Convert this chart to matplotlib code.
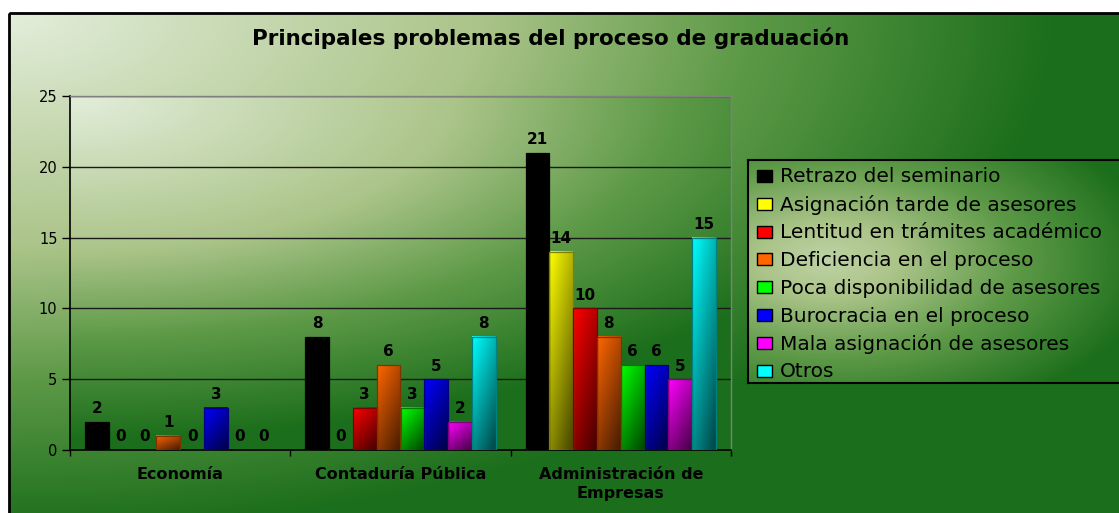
import numpy as np
import matplotlib.pyplot as plt
from matplotlib.colors import LinearSegmentedColormap, to_rgb
from matplotlib.patches import Rectangle

W, H = 1119, 513

categories = ['Economía', 'Contaduría Pública', 'Administración de\nEmpresas']
series = ['Retrazo del seminario', 'Asignación tarde de asesores',
          'Lentitud en trámites académico', 'Deficiencia en el proceso',
          'Poca disponibilidad de asesores', 'Burocracia en el proceso',
          'Mala asignación de asesores', 'Otros']
colors = ['#000000', '#ffff00', '#ff0000', '#ff6600',
          '#00ff00', '#0000ff', '#ff00ff', '#00ffff']
economia = [2, 0, 0, 1, 0, 3, 0, 0]
contaduria = [8, 0, 3, 6, 3, 5, 2, 8]
administracion = [21, 14, 10, 8, 6, 6, 5, 15]
yticks = [0, 5, 10, 15, 20, 25]

values = np.array([economia, contaduria, administracion])

plt.rcParams['font.family'] = ['DejaVu Sans']

green = LinearSegmentedColormap.from_list(
    'green', [(0, '#e3eedb'), (0.45, '#abc489'), (0.7, '#5e9a48'), (1, '#1b6e1b')])


def radial(nx, ny, cx, cy, rx, ry, lo=0.0):
    xx, yy = np.meshgrid(np.arange(nx) + 0.5, np.arange(ny) + 0.5)
    d = np.sqrt(((xx - cx) / rx) ** 2 + ((yy - cy) / ry) ** 2)
    return green(lo + (1 - lo) * np.clip(d, 0, 1))


def px_axes(x0, y0, x1, y1, **kw):
    return fig.add_axes([x0 / W, 1 - y1 / H, (x1 - x0) / W, (y1 - y0) / H], **kw)


def shade(ax, rect, color):
    h = rect.get_height()
    if h <= 0:
        return
    x, y, w = rect.get_x(), rect.get_y(), rect.get_width()
    base = np.array(to_rgb(color))
    t = np.linspace(0, 1, 80)[:, None, None]
    s = np.linspace(0, 1, 20)[None, :, None]
    f = np.clip(1 - 0.45 * t - 0.28 * s, 0.3, 1)
    img = base[None, None, :] * f
    ax.imshow(img, extent=(x, x + w, y, y + h), origin='upper', aspect='auto',
              interpolation='bilinear', zorder=2.9, clip_path=rect, clip_on=True)


fig = plt.figure(figsize=(W / 100, H / 100), dpi=100, facecolor='white')

# chart area background
bg = fig.add_axes([0, 0, 1, 1], zorder=0)
bg.set_axis_off()
img = radial(W, H, 9, 13, 1050, 520)
img[:13, :, :] = 1
img[:, :9, :] = 1
bg.imshow(img, extent=(0, W, H, 0), aspect='auto', interpolation='bilinear')
bg.add_patch(Rectangle((9, 13), W + 10, H + 10, fill=False, ec='black', lw=2))
bg.set_xlim(0, W)
bg.set_ylim(H, 0)

# plot area background
pa = px_axes(70, 96, 731, 450, zorder=1)
pa.set_axis_off()
pa.imshow(radial(661, 354, 0, 0, 860, 345), extent=(0, 1, 0, 1), aspect='auto')

ax = px_axes(70, 96, 731, 450, zorder=2)
ax.set_facecolor('none')

x = np.arange(len(categories))
bw = 0.108
for j in range(len(series)):
    edge = 'black' if j == 0 else tuple(np.array(to_rgb(colors[j])) * 0.5)
    bars = ax.bar(x + (j - 3.5) * bw, values[:, j], bw, color=colors[j],
                  edgecolor=edge, linewidth=0.9, zorder=3, label=series[j])
    for rect, v in zip(bars, values[:, j]):
        if v == 0:
            rect.set_linewidth(0)
        ax.annotate(str(v), (rect.get_x() + rect.get_width() / 2, v),
                    xytext=(0, 4), textcoords='offset points', ha='center',
                    va='bottom', fontsize=11, fontweight='bold', zorder=4)
        if j > 0:
            shade(ax, rect, colors[j])
            rect.set_facecolor('none')

ax.set_xlim(-0.5, 2.5)
ax.set_ylim(0, 25)
ax.set_yticks(yticks)
ax.tick_params(axis='y', length=6, width=1, labelsize=10.5, pad=3)
ax.set_xticks([-0.5, 0.5, 1.5, 2.5])
ax.set_xticklabels([])
ax.tick_params(axis='x', which='major', length=4, width=1)
ax.set_xticks(x, categories, minor=True)
ax.tick_params(axis='x', which='minor', length=0, pad=12, labelsize=11.5)
for lbl in ax.get_xticklabels(minor=True):
    lbl.set_fontweight('bold')
    lbl.set_linespacing(1.35)
ax.yaxis.grid(True, color='#1a1a1a', linewidth=1)
ax.set_axisbelow(True)
for side in ['left', 'bottom']:
    ax.spines[side].set_color('black')
    ax.spines[side].set_linewidth(1.2)
for side in ['top', 'right']:
    ax.spines[side].set_color('#808080')
    ax.spines[side].set_linewidth(1)

fig.text(551 / W, 1 - 45 / H, 'Principales problemas del proceso de graduación',
         ha='center', va='baseline', fontsize=15.5, fontweight='bold')

# legend box
lax = px_axes(748, 160, 1130, 383, zorder=3)
lax.imshow(radial(382, 223, 80, 100, 330, 170, lo=0.3), extent=(0, 382, 223, 0),
           aspect='auto')
lax.set_xlim(0, 382)
lax.set_ylim(223, 0)
lax.set_xticks([])
lax.set_yticks([])
for sp in lax.spines.values():
    sp.set_color('black')
    sp.set_linewidth(1.5)
for i, (lab, col) in enumerate(zip(series, colors)):
    yc = 16 + i * 27.8
    lax.add_patch(Rectangle((9, yc - 6), 15, 12, fc=col, ec='black', lw=1))
    lax.text(32, yc + 1, lab, va='center', ha='left', fontsize=14.5)

fig.savefig('out.png', dpi=100, facecolor='white')
